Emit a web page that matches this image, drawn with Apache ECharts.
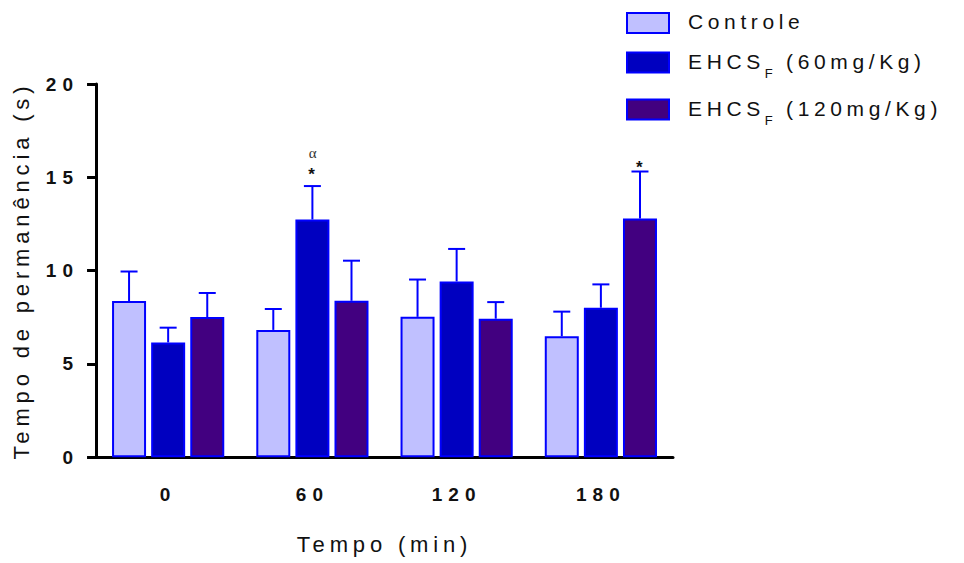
<!DOCTYPE html>
<html>
<head>
<meta charset="utf-8">
<script src="https://cdn.jsdelivr.net/npm/echarts@6/dist/echarts.min.js"></script>
<style>
  html, body { margin: 0; padding: 0; background: #fff; }
  #chart { width: 964px; height: 563px; }
  /* Prism-style wide character spacing */
  #chart text { letter-spacing: 0.22em; }
  #chart text[style*="bold"], #chart text[font-weight="bold"] { letter-spacing: 0.32em; }
</style>
</head>
<body>
<div id="chart"></div>
<script>
// ---- data ----
const categories = ['0', '60', '120', '180'];
const seriesNames = ['Controle', 'EHCSF (60mg/Kg)', 'EHCSF (120mg/Kg)'];
const controleMean = [8.37, 6.82, 7.52, 6.48];
const controleSem  = [1.58, 1.12, 2.00, 1.32];
const ehcs60Mean   = [6.15, 12.74, 9.42, 8.01];
const ehcs60Sem    = [0.79, 1.79, 1.74, 1.25];
const ehcs120Mean  = [7.51, 8.38, 7.42, 12.79];
const ehcs120Sem   = [1.29, 2.15, 0.89, 2.52];
const yTicks = [0, 5, 10, 15, 20];
// significance marks: category, series index, symbols stacked upwards
const sigMarks = [
  { cat: '60', series: 1, symbols: ['*', 'α'] },
  { cat: '180', series: 2, symbols: ['*'] }
];

// ---- styling ----
const FONT = "'Liberation Sans', Arial, sans-serif";
const LS_NORMAL = 0.22, LS_BOLD = 0.32;
const fills = ['#C0C0FF', '#0000C0', '#420080'];
const EDGE = '#0000FF';
const BAR_W = 34, BAR_GAP = 0.15;
const MARK_LIFT = [[12, 33], [4]];

// text widths include the letter spacing applied in CSS
const mctx = document.createElement('canvas').getContext('2d');
echarts.setPlatformAPI({
  measureText(text, font) {
    font = font || '12px sans-serif';
    mctx.font = font;
    const m = mctx.measureText(text);
    const sz = parseFloat((/(\d+(?:\.\d+)?)px/.exec(font) || [0, 12])[1]);
    const k = /bold/.test(font) ? LS_BOLD : LS_NORMAL;
    const out = { width: m.width + text.length * sz * k };
    ['actualBoundingBoxAscent', 'actualBoundingBoxDescent', 'actualBoundingBoxLeft',
     'actualBoundingBoxRight', 'fontBoundingBoxAscent', 'fontBoundingBoxDescent']
      .forEach(p => { out[p] = m[p]; });
    return out;
  }
});

const means = [controleMean, ehcs60Mean, ehcs120Mean];
const sems = [controleSem, ehcs60Sem, ehcs120Sem];

const chart = echarts.init(document.getElementById('chart'), null, { renderer: 'svg' });

const barSeries = seriesNames.map((name, i) => ({
  name,
  type: 'bar',
  data: means[i],
  barWidth: BAR_W,
  barGap: (BAR_GAP * 100) + '%',
  itemStyle: { color: fills[i], borderColor: EDGE, borderWidth: 2 },
  z: 2
}));

const errSeries = seriesNames.map((name, i) => ({
  type: 'custom',
  silent: true,
  z: 3,
  data: categories.map((c, ci) => [ci, means[i][ci], sems[i][ci]]),
  renderItem(params, api) {
    const ci = api.value(0), v = api.value(1), e = api.value(2);
    const base = api.coord([ci, v]);
    const top = api.coord([ci, v + e]);
    const x = base[0] + (i - 1) * BAR_W * (1 + BAR_GAP);
    const st = { stroke: EDGE, lineWidth: 2 };
    return {
      type: 'group',
      children: [
        { type: 'line', shape: { x1: x, y1: base[1], x2: x, y2: top[1] }, style: st },
        { type: 'line', shape: { x1: x - 8.5, y1: top[1], x2: x + 8.5, y2: top[1] }, style: st }
      ]
    };
  }
}));

const markSeries = {
  type: 'custom',
  silent: true,
  z: 4,
  data: sigMarks.map((m, k) => {
    const ci = categories.indexOf(m.cat);
    return [ci, means[m.series][ci] + sems[m.series][ci], m.series, k];
  }),
  renderItem(params, api) {
    const ci = api.value(0), topV = api.value(1), s = api.value(2), k = api.value(3);
    const p = api.coord([ci, topV]);
    const x = p[0] + (s - 1) * BAR_W * (1 + BAR_GAP);
    const mark = sigMarks[k];
    return {
      type: 'group',
      children: mark.symbols.map((sym, j) => ({
        type: 'text',
        x: x + 2,
        y: p[1] - MARK_LIFT[k][j],
        style: sym === '*'
          ? { text: sym, fill: '#111', font: "bold 17px " + FONT, align: 'center', verticalAlign: 'middle' }
          : { text: sym, fill: '#333', font: "15px 'Liberation Serif', 'DejaVu Serif', serif", align: 'center', verticalAlign: 'middle' }
      }))
    };
  }
};

chart.setOption({
  animation: false,
  backgroundColor: '#fff',
  grid: { left: 95, right: 291, top: 84, bottom: 100, containLabel: false },
  legend: {
    orient: 'vertical',
    left: 621,
    top: 4,
    icon: 'rect',
    itemWidth: 42,
    itemHeight: 20,
    itemGap: 14,
    data: seriesNames,
    formatter(name) {
      if (name.indexOf('EHCSF') === 0) {
        return '{n|EHCS}{s|F}{n|' + name.slice(5) + '}';
      }
      return '{n|' + name + '}';
    },
    textStyle: {
      padding: [0, 0, 0, 14],
      rich: {
        n: { fontFamily: FONT, fontSize: 21, color: '#111', lineHeight: 28, verticalAlign: 'top' },
        s: { fontFamily: FONT, fontSize: 13, color: '#111', lineHeight: 11, verticalAlign: 'top', padding: [17, 0, 0, 0] }
      }
    }
  },
  xAxis: {
    type: 'category',
    data: categories,
    name: 'Tempo (min)',
    nameLocation: 'middle',
    nameGap: 74,
    nameTextStyle: { fontFamily: FONT, fontSize: 22, color: '#111' },
    axisLine: { lineStyle: { color: '#000', width: 3 } },
    axisTick: { alignWithLabel: true, length: 9, lineStyle: { color: '#000', width: 3 } },
    axisLabel: { fontFamily: FONT, fontSize: 19, fontWeight: 'bold', color: '#111', margin: 25 }
  },
  yAxis: {
    type: 'value',
    min: yTicks[0],
    max: yTicks[yTicks.length - 1],
    interval: yTicks[1] - yTicks[0],
    name: 'Tempo de permanência (s)',
    nameLocation: 'middle',
    nameGap: 57,
    nameTextStyle: { fontFamily: FONT, fontSize: 22, color: '#111' },
    axisLine: { show: true, lineStyle: { color: '#000', width: 3 } },
    axisTick: { show: true, length: 9, lineStyle: { color: '#000', width: 3 } },
    axisLabel: { fontFamily: FONT, fontSize: 19, fontWeight: 'bold', color: '#111', margin: 17 },
    splitLine: { show: false }
  },
  series: [...barSeries, ...errSeries, markSeries]
});
</script>
</body>
</html>
